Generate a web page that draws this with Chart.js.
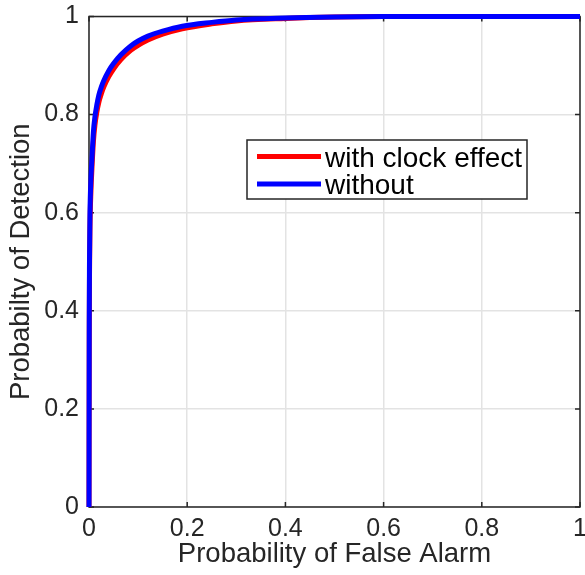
<!DOCTYPE html>
<html><head><meta charset="utf-8">
<script src="https://cdn.jsdelivr.net/npm/chart.js@4"></script>
<style>html,body{margin:0;padding:0;background:#fff}#wrap{width:585px;height:575px;position:relative}</style>
</head><body><div id="wrap"><canvas id="c" width="585" height="575"></canvas></div>
<script>
const falseAlarm = [0, 0.0005, 0.001, 0.002, 0.004, 0.006, 0.009, 0.012, 0.016, 0.02, 0.025, 0.03, 0.04, 0.05, 0.065, 0.085, 0.1, 0.12, 0.15, 0.19, 0.25, 0.3, 0.4, 0.5, 0.6, 0.8, 1];
const pdWithClock = [0, 0.35, 0.47, 0.57, 0.645, 0.69, 0.745, 0.778, 0.805, 0.825, 0.842, 0.856, 0.877, 0.893, 0.912, 0.931, 0.941, 0.952, 0.964, 0.975, 0.985, 0.991, 0.996, 0.999, 1, 1, 1];
const pdWithout = [0, 0.38, 0.5, 0.6, 0.67, 0.71, 0.765, 0.795, 0.82, 0.84, 0.856, 0.869, 0.889, 0.904, 0.922, 0.94, 0.95, 0.96, 0.97, 0.98, 0.988, 0.993, 0.997, 0.999, 1, 1, 1];
const tickValues = [0, 0.2, 0.4, 0.6, 0.8, 1];
const seriesNames = ['with clock effect', 'without'];
const seriesColors = ['#ff0000', '#0000ff'];

const pts = ys => falseAlarm.map((x, i) => ({x, y: ys[i]}));
const fmt = v => String(v);
const FONT = '"Liberation Sans", Arial, Helvetica, sans-serif';
const INK = '#262626';

const frameAndTicks = {
  id: 'frameAndTicks',
  beforeDatasetsDraw(chart) {
    const {ctx, chartArea: a, scales: {x, y}} = chart;
    ctx.save();
    ctx.strokeStyle = INK;
    ctx.lineWidth = 1.5;
    ctx.strokeRect(a.left, a.top, a.right - a.left, a.bottom - a.top);
    ctx.beginPath();
    tickValues.forEach(v => {
      const px = x.getPixelForValue(v);
      ctx.moveTo(px, a.bottom); ctx.lineTo(px, a.bottom - 5);
      ctx.moveTo(px, a.top); ctx.lineTo(px, a.top + 5);
      const py = y.getPixelForValue(v);
      ctx.moveTo(a.left, py); ctx.lineTo(a.left + 5, py);
      ctx.moveTo(a.right, py); ctx.lineTo(a.right - 5, py);
    });
    ctx.stroke();
    ctx.restore();
  },
  afterDatasetsDraw(chart) {
    const {ctx} = chart;
    ctx.save();
    const bx = 247, by = 140, bw = 280, bh = 59;
    ctx.fillStyle = '#fff';
    ctx.fillRect(bx, by, bw, bh);
    ctx.strokeStyle = INK;
    ctx.lineWidth = 1.5;
    ctx.strokeRect(bx, by, bw, bh);
    ctx.font = '28px ' + FONT;
    ctx.textBaseline = 'alphabetic';
    ctx.textAlign = 'left';
    seriesNames.forEach((n, i) => {
      const ly = 156.5 + i * 27.5;
      ctx.strokeStyle = seriesColors[i];
      ctx.lineWidth = 5;
      ctx.beginPath(); ctx.moveTo(257, ly); ctx.lineTo(321, ly); ctx.stroke();
      ctx.fillStyle = '#000';
      ctx.fillText(n, 325, ly + 10);
    });
    ctx.restore();
  }
};

new Chart(document.getElementById('c'), {
  type: 'scatter',
  data: {
    datasets: [
      {label: seriesNames[1], data: pts(pdWithout), borderColor: seriesColors[1], backgroundColor: seriesColors[1], showLine: true, borderWidth: 5, pointRadius: 0, cubicInterpolationMode: 'monotone', clip: false},
      {label: seriesNames[0], data: pts(pdWithClock), borderColor: seriesColors[0], backgroundColor: seriesColors[0], showLine: true, borderWidth: 5, pointRadius: 0, cubicInterpolationMode: 'monotone', clip: false}
    ]
  },
  options: {
    responsive: false,
    animation: false,
    devicePixelRatio: 1,
    layout: {padding: {top: 16.5, right: 5, left: 0, bottom: 0}},
    plugins: {legend: {display: false}, tooltip: {enabled: false}},
    scales: {
      x: {
        type: 'linear', min: 0, max: 1,
        afterBuildTicks: s => { s.ticks = tickValues.map(v => ({value: v})); },
        afterFit: s => { s.height = 68; s.paddingLeft = 0; s.paddingRight = 0; },
        grid: {color: '#e3e3e3', lineWidth: 1.5, drawTicks: false},
        border: {display: false},
        ticks: {color: INK, font: {size: 25, family: FONT}, padding: 7, maxRotation: 0, callback: v => fmt(v)},
        title: {display: true, text: 'Probability of False Alarm', color: INK, font: {size: 27.5, family: FONT}, padding: {top: 0, bottom: 4.5}}
      },
      y: {
        type: 'linear', min: 0, max: 1,
        afterBuildTicks: s => { s.ticks = tickValues.map(v => ({value: v})); },
        afterFit: s => { s.width = 89; s.paddingTop = 0; s.paddingBottom = 0; },
        grid: {color: '#e3e3e3', lineWidth: 1.5, drawTicks: false},
        border: {display: false},
        ticks: {color: INK, font: {size: 25, family: FONT}, padding: 10, callback: v => fmt(v)},
        title: {display: true, text: 'Probabilty of Detection', color: INK, font: {size: 27.5, family: FONT}, padding: {top: 4.5, bottom: 0}}
      }
    }
  },
  plugins: [frameAndTicks]
});
</script></body></html>
